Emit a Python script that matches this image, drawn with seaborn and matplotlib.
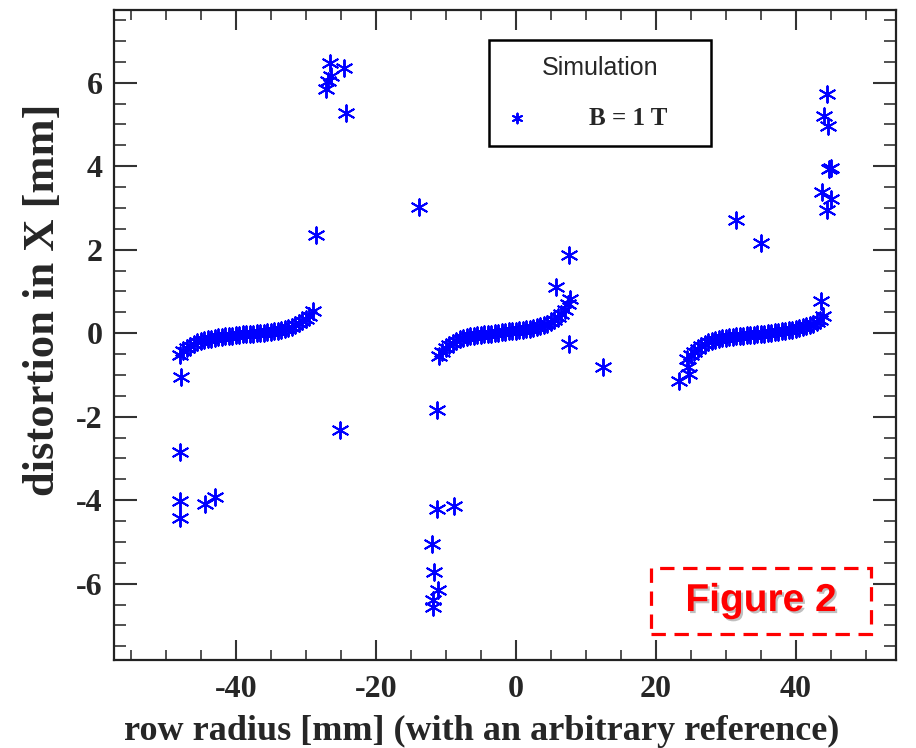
import numpy as np
import pandas as pd
import seaborn as sns
import matplotlib.pyplot as plt
from matplotlib.ticker import MultipleLocator
from matplotlib.patches import Rectangle
import matplotlib.patheffects as pe

# --- values ---
# left band
band1_x = [-48.0, -47.5, -47.0, -46.5, -46.0, -45.5, -45.0, -44.5, -44.0, -43.5,
           -43.0, -42.5, -42.0, -41.5, -41.0, -40.5, -40.0, -39.5, -39.0, -38.5,
           -38.0, -37.5, -37.0, -36.5, -36.0, -35.5, -35.0, -34.5, -34.0, -33.5,
           -33.0, -32.5, -32.0, -31.5, -31.0, -30.5, -30.0, -29.5, -29.0]
band1_y = [-0.52, -0.42, -0.35, -0.30, -0.26, -0.22, -0.19, -0.17, -0.15, -0.13,
           -0.11, -0.10, -0.09, -0.08, -0.07, -0.06, -0.05, -0.04, -0.03, -0.02,
           -0.02, -0.01, 0.00, 0.00, 0.01, 0.02, 0.03, 0.04, 0.06, 0.08,
           0.10, 0.12, 0.15, 0.19, 0.24, 0.29, 0.35, 0.42, 0.52]
# middle band
band2_x = [-11.0, -10.5, -10.0, -9.5, -9.0, -8.5, -8.0, -7.5, -7.0, -6.5,
           -6.0, -5.5, -5.0, -4.5, -4.0, -3.5, -3.0, -2.5, -2.0, -1.5,
           -1.0, -0.5, 0.0, 0.5, 1.0, 1.5, 2.0, 2.5, 3.0, 3.5,
           4.0, 4.5, 5.0, 5.5, 6.0, 6.5, 7.0, 7.5, 7.8]
band2_y = [-0.55, -0.45, -0.36, -0.29, -0.23, -0.18, -0.14, -0.11, -0.09, -0.07,
           -0.06, -0.05, -0.04, -0.03, -0.02, -0.01, 0.00, 0.01, 0.02, 0.03,
           0.04, 0.05, 0.06, 0.07, 0.08, 0.10, 0.11, 0.13, 0.15, 0.17,
           0.20, 0.23, 0.27, 0.32, 0.38, 0.46, 0.56, 0.70, 0.82]
# right band
band3_x = [24.5, 25.0, 25.5, 26.0, 26.5, 27.0, 27.5, 28.0, 28.5, 29.0,
           29.5, 30.0, 30.5, 31.0, 31.5, 32.0, 32.5, 33.0, 33.5, 34.0,
           34.5, 35.0, 35.5, 36.0, 36.5, 37.0, 37.5, 38.0, 38.5, 39.0,
           39.5, 40.0, 40.5, 41.0, 41.5, 42.0, 42.5, 43.0, 43.5, 43.9]
band3_y = [-0.62, -0.52, -0.44, -0.37, -0.31, -0.26, -0.22, -0.19, -0.16, -0.14,
           -0.12, -0.11, -0.10, -0.09, -0.08, -0.07, -0.06, -0.05, -0.04, -0.04,
           -0.03, -0.02, -0.01, 0.00, 0.01, 0.02, 0.03, 0.04, 0.05, 0.07,
           0.08, 0.10, 0.12, 0.14, 0.16, 0.19, 0.22, 0.26, 0.32, 0.40]
# scattered points away from the bands
out_x = [-26.6, -24.5, -26.4, -26.9, -27.1, -24.3, -28.6, -47.9, -48.0, -48.0,
         -48.0, -44.4, -43.0, -25.1,
         -13.8, 7.6, 5.7, 7.6, 12.4, -11.2, -11.3, -8.9, -12.0, -11.7,
         -11.1, -11.8, -11.8,
         44.4, 44.1, 44.6, 44.8, 45.0, 43.7, 45.1, 44.5, 31.4, 35.1, 43.6,
         23.3, 24.8, 24.6]
out_y = [6.47, 6.36, 6.16, 6.03, 5.84, 5.27, 2.35, -1.06, -2.85, -4.03,
         -4.43, -4.10, -3.93, -2.32,
         3.03, 1.88, 1.10, -0.26, -0.80, -1.84, -4.21, -4.15, -5.05, -5.73,
         -6.15, -6.39, -6.55,
         5.72, 5.20, 4.97, 3.93, 3.95, 3.37, 3.21, 2.94, 2.71, 2.16, 0.76,
         -1.14, -0.98, -0.80]

df = pd.DataFrame({
    'r': band1_x + band2_x + band3_x + out_x,
    'd': band1_y + band2_y + band3_y + out_y,
})

sns.set_style('ticks')
plt.rcParams['font.family'] = ['Liberation Serif', 'DejaVu Serif']
plt.rcParams['font.weight'] = 'bold'
plt.rcParams['axes.unicode_minus'] = False

fig = plt.figure(figsize=(9.16, 7.48), dpi=100)
ax = fig.add_axes([0.1245, 0.1176, 0.8535, 0.869])

# six-armed asterisk like the original plotting program
sns.scatterplot(data=df, x='r', y='d', ax=ax, marker=(6, 2, 0), s=140,
                color='#0000ff', linewidth=1.4, label='B = 1 T')

ax.set_xlim(-57.4, 54.3)
ax.set_ylim(-7.83, 7.74)
ax.xaxis.set_major_locator(MultipleLocator(20))
ax.xaxis.set_minor_locator(MultipleLocator(5))
ax.yaxis.set_major_locator(MultipleLocator(2))
ax.yaxis.set_minor_locator(MultipleLocator(0.5))

for s in ax.spines.values():
    s.set_linewidth(1.6)
    s.set_color('#222222')
ax.tick_params(which='both', direction='in', top=True, right=True, color='#333333')
ax.tick_params(axis='x', which='major', length=14.5, width=1.5, pad=11, labelsize=23)
ax.tick_params(axis='x', which='minor', length=7, width=1.2)
ax.tick_params(axis='y', which='major', length=16.5, width=1.5, pad=8, labelsize=23)
ax.tick_params(axis='y', which='minor', length=8.5, width=1.2)

ax.set_xlabel('row radius [mm] (with an arbitrary reference)', fontsize=26,
              fontweight='bold')
ax.set_ylabel('distortion in X [mm]', fontsize=32, fontweight='bold')
ax.xaxis.set_label_coords(0.4706, -0.085)
ax.yaxis.set_label_coords(-0.065, 0.5538)

leg = ax.legend(title='Simulation', loc='upper left',
                bbox_to_anchor=(0.4795, 0.9538, 0.2839, 0.0),
                mode='expand', borderaxespad=0, fancybox=False, markerscale=0.6,
                handlelength=1.0, handletextpad=2.4, borderpad=0.62,
                labelspacing=1.1,
                prop={'family': 'Liberation Serif', 'weight': 'bold', 'size': 18},
                title_fontproperties={'family': 'Liberation Sans', 'weight': 'normal',
                                      'size': 18})
leg.get_frame().set_edgecolor('black')
leg.get_frame().set_linewidth(1.8)
leg.get_frame().set_alpha(1)

# red dashed "Figure 2" tag
fig.add_artist(Rectangle((0.7107, 0.1524), 0.2402, 0.0882, transform=fig.transFigure,
                         fill=False, edgecolor='#ff0000', linewidth=2.3,
                         linestyle=(0, (4.5, 2.7))))
fig.text(0.8308, 0.1965, 'Figure 2', ha='center', va='center', color='#ff0000',
         fontsize=28, family='Liberation Sans', fontweight='bold',
         path_effects=[pe.withSimplePatchShadow(offset=(1.5, -1.5),
                                                shadow_rgbFace='gray', alpha=0.5)])

fig.savefig('out.png', dpi=100)
